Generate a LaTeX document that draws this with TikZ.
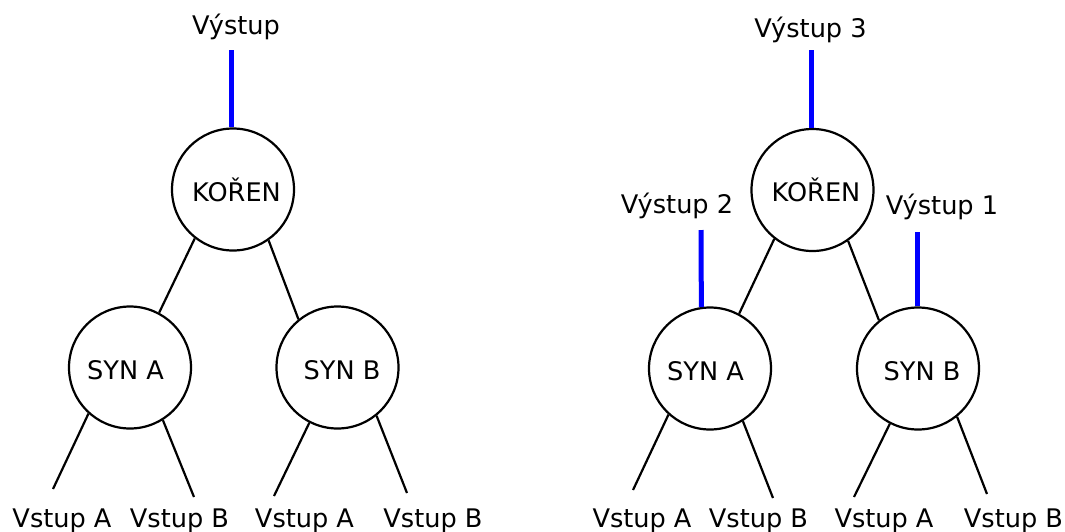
\documentclass[tikz,border=0pt]{standalone}
\usepackage{fontspec}
\setmainfont{DejaVu Sans}
\begin{document}
\begin{tikzpicture}[x=1pt,y=-1pt,
  every node/.style={font=\fontsize{25.6}{30}\selectfont},
  treenode/.style={circle,draw=black,line width=2.2pt,minimum size=122pt,inner sep=0pt,text height=23pt,text depth=0pt},
  edge/.style={draw=black,line width=2.2pt},
  outline/.style={draw=blue,line width=5pt},
  lbl/.style={anchor=base,inner sep=0pt}]
\useasboundingbox (0,0) rectangle (1065,531);
% ---------- left tree ----------
\node[treenode] (koren) at (233,189.5) {\hspace*{7pt}KOŘEN};
\node[treenode] (synA) at (130,367.5) {SYN A\hspace*{9pt}};
\node[treenode] (synB) at (337.5,367.5) {\hspace*{9pt}SYN B};
\node[lbl] (vys) at (236,34) {Výstup};
\coordinate (vysT) at (231,50);
\draw[outline] (vysT) -- (vysT |- koren.north);
\draw[edge] (koren.232) -- (synA.62);
\draw[edge] (koren.305) -- (synB.129);
\coordinate (a1) at (53,489);
\coordinate (a2) at (194,497);
\coordinate (b1) at (274,496);
\coordinate (b2) at (407,493);
\draw[edge] (synA.228) -- (a1);
\draw[edge] (synA.302.5) -- (a2);
\draw[edge] (synB.243) -- (b1);
\draw[edge] (synB.309) -- (b2);
\node[lbl] (la1) at (62,527) {Vstup A};
\node[lbl] (la2) at (179.5,527) {Vstup B};
\node[lbl] (lb1) at (304.5,527) {Vstup A};
\node[lbl] (lb2) at (433,527) {Vstup B};
% ---------- right tree ----------
\node[treenode] (koren2) at (812.5,190) {\hspace*{7pt}KOŘEN};
\node[treenode] (synA2) at (710,368.5) {SYN A\hspace*{9pt}};
\node[treenode] (synB2) at (918,368.5) {\hspace*{8pt}SYN B};
\node[lbl] (vys3) at (810.5,37) {Výstup 3};
\node[lbl] (vys2) at (677,213) {Výstup 2};
\node[lbl] (vys1) at (942,214) {Výstup 1};
\coordinate (v3T) at (811,50);
\coordinate (v2T) at (701,230);
\coordinate (v1T) at (917,232);
\draw[outline] (v3T) -- (v3T |- koren2.north);
\draw[outline] (v2T) -- (synA2.98.5);
\draw[outline] (v1T) -- (v1T |- synB2.north);
\draw[edge] (koren2.232) -- (synA2.62);
\draw[edge] (koren2.305) -- (synB2.129);
\coordinate (c1) at (633,490);
\coordinate (c2) at (773,498);
\coordinate (d1) at (854,497);
\coordinate (d2) at (987,494);
\draw[edge] (synA2.228) -- (c1);
\draw[edge] (synA2.302.5) -- (c2);
\draw[edge] (synB2.243) -- (d1);
\draw[edge] (synB2.309) -- (d2);
\node[lbl] (lc1) at (642,527) {Vstup A};
\node[lbl] (lc2) at (758.5,527) {Vstup B};
\node[lbl] (ld1) at (884,527) {Vstup A};
\node[lbl] (ld2) at (1013.5,527) {Vstup B};
\end{tikzpicture}
\end{document}
